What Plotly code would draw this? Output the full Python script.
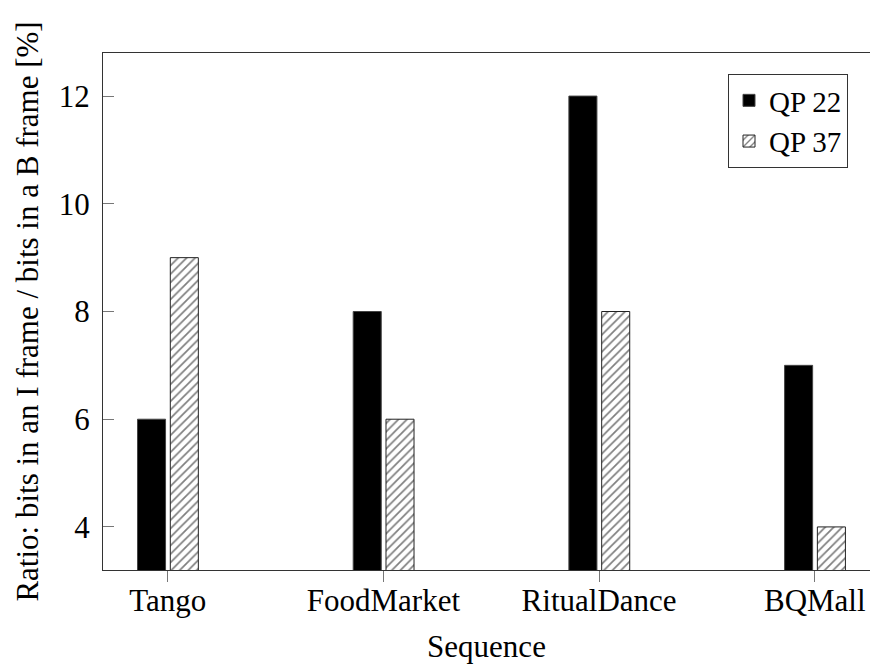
import plotly.graph_objects as go

# Sequences and the I/B frame bit ratio for each QP setting
sequences = ["Tango", "FoodMarket", "RitualDance", "BQMall"]
qp22 = [6, 8, 12, 7]
qp37 = [9, 6, 8, 4]
y_ticks = [4, 6, 8, 10, 12]

FONT = "Liberation Serif"
FS = 31

fig = go.Figure()
fig.add_trace(go.Bar(
    x=sequences, y=qp22, name="QP 22",
    width=0.13, offset=-0.14,
    marker=dict(color="black", line=dict(color="#444", width=1)),
))
fig.add_trace(go.Bar(
    x=sequences, y=qp37, name="QP 37",
    width=0.13, offset=0.012,
    marker=dict(
        color="white",
        line=dict(color="#222", width=1),
        pattern=dict(shape="/", fgcolor="black", bgcolor="white", size=6, solidity=0.28),
    ),
))

fig.update_layout(
    width=870, height=664,
    margin=dict(l=103, r=0, t=53, b=94),
    plot_bgcolor="white", paper_bgcolor="white",
    font=dict(family=FONT, size=FS, color="black"),
    barmode="overlay",
    showlegend=True,
    legend=dict(
        x=(848 - 103) / (870 - 103), xanchor="right",
        y=1 - (74 - 53) / (570 - 53), yanchor="top",
        bgcolor="white", bordercolor="#333", borderwidth=1,
        font=dict(family=FONT, size=29),
        itemwidth=30, tracegroupgap=0,
    ),
)

fig.update_xaxes(
    type="category", categoryorder="array", categoryarray=sequences,
    range=[-0.3, 3.256],
    showline=True, linecolor="#333", linewidth=1.3, mirror=True,
    ticks="outside", ticklen=11, tickcolor="#777", tickwidth=1,
    showgrid=False, zeroline=False,
    ticklabelstandoff=-8,
    title=dict(text="Sequence", font=dict(family=FONT, size=FS), standoff=18),
)
fig.update_yaxes(
    range=[3.2, 12.8],
    tickvals=y_ticks, ticktext=[str(v) for v in y_ticks],
    showline=True, linecolor="#333", linewidth=1.3, mirror=False,
    ticks="inside", ticklen=11, tickcolor="#777", tickwidth=1,
    showgrid=False, zeroline=False,
    ticklabelstandoff=6,
    title=dict(text="Ratio: bits in an I frame / bits in a B frame [%]",
               font=dict(family=FONT, size=FS), standoff=10),
)

fig.write_html("out.html")
